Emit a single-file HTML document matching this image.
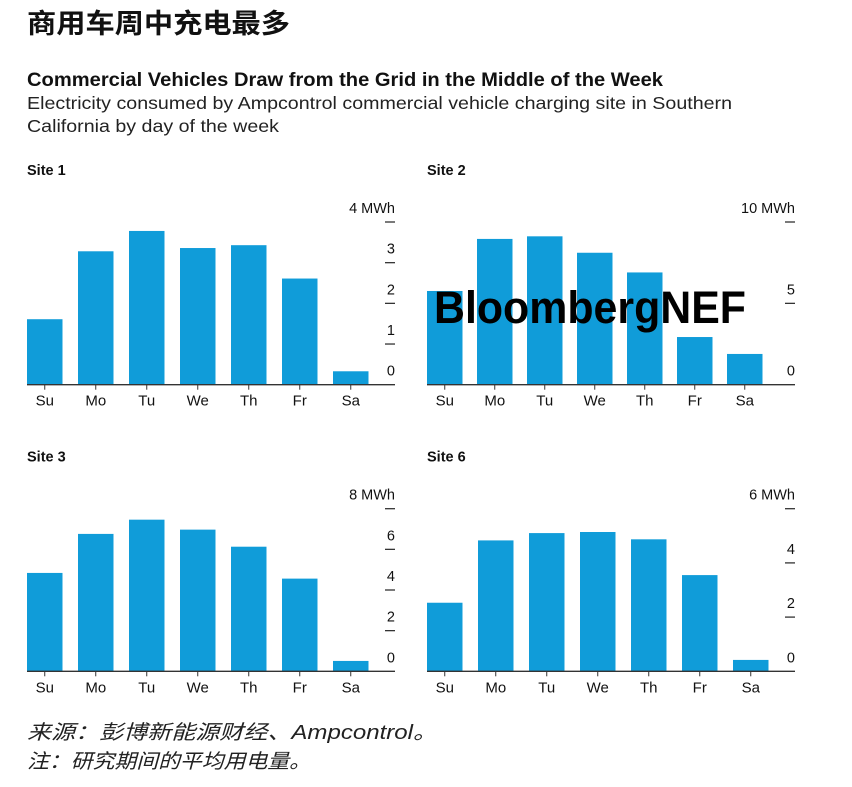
<!DOCTYPE html>
<html><head><meta charset="utf-8">
<style>
body{margin:0;background:#fff;width:852px;height:782px;overflow:hidden;font-family:"Liberation Sans","Noto Sans CJK SC",sans-serif;}
svg text{font-family:"Liberation Sans","Noto Sans CJK SC",sans-serif;}
</style></head>
<body>
<svg id="chart" width="852" height="782" viewBox="0 0 852 782" xmlns="http://www.w3.org/2000/svg">
<text x="27" y="33" font-size="27" font-weight="bold" fill="#111" textLength="263" lengthAdjust="spacingAndGlyphs">商用车周中充电最多</text>
<text x="27" y="86" font-size="19" font-weight="bold" fill="#111" textLength="636" lengthAdjust="spacingAndGlyphs">Commercial Vehicles Draw from the Grid in the Middle of the Week</text>
<text x="27" y="109" font-size="17.5" fill="#222" textLength="705" lengthAdjust="spacingAndGlyphs">Electricity consumed by Ampcontrol commercial vehicle charging site in Southern</text>
<text x="27" y="132" font-size="17.5" fill="#222" textLength="252" lengthAdjust="spacingAndGlyphs">California by day of the week</text>
<g id="panels"></g>
<text x="434" y="323" font-size="45" font-weight="bold" fill="#000" textLength="312" lengthAdjust="spacingAndGlyphs">BloombergNEF</text>
<text x="27" y="739" font-size="20" font-style="italic" fill="#222" textLength="410" lengthAdjust="spacingAndGlyphs">来源：彭博新能源财经、Ampcontrol。</text>
<text x="27" y="768" font-size="20" font-style="italic" fill="#222" textLength="284" lengthAdjust="spacingAndGlyphs">注：研究期间的平均用电量。</text>
</svg>
<script>
const days = ["Su","Mo","Tu","We","Th","Fr","Sa"];
const site1 = [1.61,3.28,3.78,3.36,3.43,2.61,0.33];
const site2 = [5.76,8.96,9.12,8.11,6.9,2.93,1.89];
const site3 = [4.84,6.76,7.46,6.97,6.13,4.56,0.51];
const site6 = [2.53,4.83,5.10,5.14,4.87,3.55,0.42];
const ticks1 = [0,1,2,3,4];
const ticks2 = [0,5,10];
const ticks3 = [0,2,4,6,8];
const ticks6 = [0,2,4,6];
const siteNames = ["Site 1","Site 2","Site 3","Site 6"];

const NS="http://www.w3.org/2000/svg";
const g=document.getElementById('panels');
function mk(tag,attrs){const e=document.createElementNS(NS,tag);for(const k in attrs)e.setAttribute(k,attrs[k]);return e;}
const panels=[
 {name:siteNames[0],vals:site1,ticks:ticks1,x0:27,base:384.7,top:222,step:51,right:395},
 {name:siteNames[1],vals:site2,ticks:ticks2,x0:427,base:384.7,top:222,step:50,right:795},
 {name:siteNames[2],vals:site3,ticks:ticks3,x0:27,base:671.3,top:508.7,step:51,right:395},
 {name:siteNames[3],vals:site6,ticks:ticks6,x0:427,base:671.3,top:508.7,step:51,right:795}
];
panels.forEach((p,pi)=>{
 const max=p.ticks[p.ticks.length-1];
 const y=v=>p.base-(v/max)*(p.base-p.top);
 const x=i=>p.x0+i*p.step;
 const bw=35.5;
 const lab=mk('text',{x:p.x0,y:p.top-47,'font-size':14.5,'font-weight':'bold',fill:'#111'});
 
 
 lab.textContent=p.name;g.appendChild(lab);
 p.vals.forEach((v,i)=>{
  const r=mk('rect',{x:x(i),y:y(v),width:bw,height:p.base-y(v),fill:'#109cd9'});
  
  
  g.appendChild(r);
  const t=mk('line',{x1:x(i)+bw/2,x2:x(i)+bw/2,y1:p.base,y2:p.base+5,stroke:'#333','stroke-width':1});
  
  
  g.appendChild(t);
  const tl=mk('text',{x:x(i)+bw/2,y:p.base+21,'font-size':15,'text-anchor':'middle',fill:'#111'});
  
  
  tl.textContent=days[i];g.appendChild(tl);
 });
 const ax=mk('line',{x1:p.x0,x2:p.right,y1:p.base,y2:p.base,stroke:'#333','stroke-width':1.3});
 
 
 g.appendChild(ax);
 p.ticks.forEach((tv,ti)=>{
  if(tv>0){
   const tk=mk('line',{x1:p.right-10,x2:p.right,y1:y(tv),y2:y(tv),stroke:'#333','stroke-width':1.3});
   
   
   g.appendChild(tk);
  }
  const tt=mk('text',{x:p.right,y:y(tv)-9,'font-size':14.5,'text-anchor':'end',fill:'#111'});
  
  
  tt.textContent=(ti===p.ticks.length-1)?tv+' MWh':String(tv);
  g.appendChild(tt);
 });
});
</script>
</body></html>
